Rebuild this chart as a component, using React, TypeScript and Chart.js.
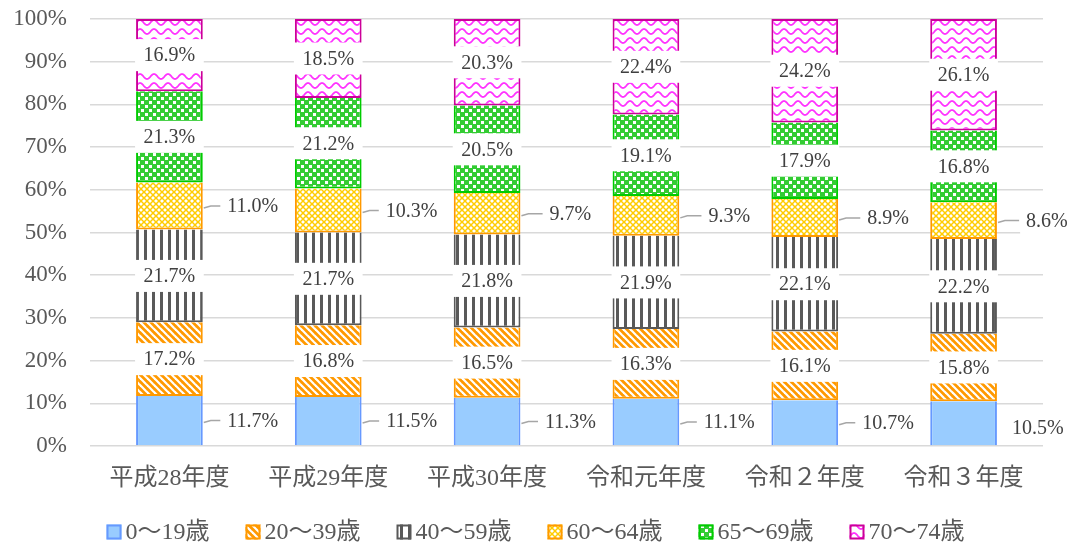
import { useEffect, useRef } from "react";
import { Chart, registerables } from "chart.js";

Chart.register(...registerables);

const categories = ["平成28年度", "平成29年度", "平成30年度", "令和元年度", "令和２年度", "令和３年度"];
const seriesNames = ["0～19歳", "20～39歳", "40～59歳", "60～64歳", "65～69歳", "70～74歳"];
const age0to19 = [11.7, 11.5, 11.3, 11.1, 10.7, 10.5];
const age20to39 = [17.2, 16.8, 16.5, 16.3, 16.1, 15.8];
const age40to59 = [21.7, 21.7, 21.8, 21.9, 22.1, 22.2];
const age60to64 = [11.0, 10.3, 9.7, 9.3, 8.9, 8.6];
const age65to69 = [21.3, 21.2, 20.5, 19.1, 17.9, 16.8];
const age70to74 = [16.9, 18.5, 20.3, 22.4, 24.2, 26.1];
const yMax = 100;
const yStep = 10;

const rawSeries = [age0to19, age20to39, age40to59, age60to64, age65to69, age70to74];
const outsideSeries = [0, 3];

const FONT = '"Liberation Serif", "Noto Sans CJK JP", serif';
const TEXT = "#595959";

function makePattern(kind: string): CanvasPattern {
  const c = document.createElement("canvas");
  let w = 8, h = 8;
  if (kind === "diag") { w = 7; h = 7; }
  if (kind === "cross") { w = 6; h = 6; }
  if (kind === "wave") { w = 14; h = 9; }
  c.width = w;
  c.height = h;
  const g = c.getContext("2d")!;
  if (kind === "diag") {
    g.fillStyle = "#ff9900";
    g.fillRect(0, 0, w, h);
    g.strokeStyle = "#ffffff";
    g.lineWidth = 2.2;
    for (const o of [-w, 0, w]) {
      g.beginPath();
      g.moveTo(o - 1, -1);
      g.lineTo(o + w + 1, h + 1);
      g.stroke();
    }
  } else if (kind === "vert") {
    g.fillStyle = "#ffffff";
    g.fillRect(0, 0, w, h);
    g.fillStyle = "#595959";
    g.fillRect(0, 0, 3, h);
  } else if (kind === "cross") {
    g.fillStyle = "#ffffff";
    g.fillRect(0, 0, w, h);
    g.strokeStyle = "#ffcc00";
    g.lineWidth = 1.5;
    for (const o of [-w, 0, w]) {
      g.beginPath();
      g.moveTo(o, 0);
      g.lineTo(o + w, h);
      g.stroke();
      g.beginPath();
      g.moveTo(o + w, 0);
      g.lineTo(o, h);
      g.stroke();
    }
  } else if (kind === "check") {
    g.fillStyle = "#33cc33";
    g.fillRect(0, 0, w, h);
    g.fillStyle = "#ffffff";
    g.fillRect(1, 1, 3, 3);
    g.fillRect(5, 5, 3, 3);
  } else if (kind === "wave") {
    g.fillStyle = "#ffffff";
    g.fillRect(0, 0, w, h);
    g.strokeStyle = "#ff33ff";
    g.lineWidth = 1.8;
    g.beginPath();
    for (let x = 0; x <= w; x += 0.5) {
      const y = 4.5 - 2.5 * Math.cos((2 * Math.PI * x) / w);
      if (x === 0) g.moveTo(x, y);
      else g.lineTo(x, y);
    }
    g.stroke();
  }
  return g.createPattern(c, "repeat")!;
}

export default function App() {
  const ref = useRef<HTMLCanvasElement | null>(null);

  useEffect(() => {
    if (!ref.current) return;
    const fills: (string | CanvasPattern)[] = [
      "#99ccff",
      makePattern("diag"),
      makePattern("vert"),
      makePattern("cross"),
      makePattern("check"),
      makePattern("wave"),
    ];
    const borders = ["#6699ff", "#ff9900", "#595959", "#ff9900", "#00cc00", "#cc0099"];
    const totals = categories.map((_, i) => rawSeries.reduce((s, arr) => s + arr[i], 0));

    const datasets = rawSeries.map((arr, di) => ({
      label: seriesNames[di],
      data: arr.map((v, i) => (v / totals[i]) * 100),
      backgroundColor: fills[di],
      borderColor: borders[di],
      borderWidth: {
        left: 2,
        right: 2,
        top: di === rawSeries.length - 1 ? 2 : 0,
        bottom: di === 0 ? 0 : 2,
      },
      borderSkipped: false,
      barPercentage: 0.42,
      categoryPercentage: 1,
    }));

    const labelPlugin = {
      id: "segLabels",
      afterDatasetsDraw(chart: any) {
        const ctx = chart.ctx as CanvasRenderingContext2D;
        ctx.save();
        ctx.font = `20px ${FONT}`;
        ctx.textAlign = "center";
        ctx.textBaseline = "middle";
        chart.data.datasets.forEach((_: any, di: number) => {
          const meta = chart.getDatasetMeta(di);
          meta.data.forEach((el: any, i: number) => {
            const text = rawSeries[di][i].toFixed(1) + "%";
            const { x, y, base, width } = el.getProps(["x", "y", "base", "width"], true);
            const cy = (y + base) / 2;
            const tw = ctx.measureText(text).width;
            if (outsideSeries.includes(di)) {
              const right = x + width / 2;
              let lx = right + 50;
              let ly = cy;
              let leader = true;
              if (di === 0 && i === categories.length - 1) {
                lx = right + 41;
                ly = cy + 5;
                leader = false;
              }
              ctx.fillStyle = "#ffffff";
              ctx.fillRect(lx - tw / 2 - 6, ly - 14, tw + 12, 28);
              if (leader) {
                ctx.strokeStyle = "#a6a6a6";
                ctx.lineWidth = 1.5;
                ctx.beginPath();
                ctx.moveTo(right + 1, cy + 2);
                ctx.lineTo(right + 8, cy);
                ctx.lineTo(lx - tw / 2 - 7, ly);
                ctx.stroke();
              }
              ctx.fillStyle = "#404040";
              ctx.fillText(text, lx, ly + 1);
            } else {
              const bw = Math.max(width + 2, tw + 12);
              ctx.fillStyle = "#ffffff";
              ctx.fillRect(x - bw / 2, cy - 16, bw, 32);
              ctx.fillStyle = "#404040";
              ctx.fillText(text, x, cy + 1);
            }
          });
        });
        ctx.restore();
      },
    };

    const legendPlugin = {
      id: "customLegend",
      afterDraw(chart: any) {
        const ctx = chart.ctx as CanvasRenderingContext2D;
        ctx.save();
        ctx.font = `24px ${FONT}`;
        ctx.textBaseline = "middle";
        ctx.textAlign = "left";
        const box = 15, gap = 4, spacing = 36;
        const widths = seriesNames.map((n) => box + gap + ctx.measureText(n).width);
        const total = widths.reduce((a, b) => a + b, 0) + spacing * (widths.length - 1);
        let x = (chart.width - total) / 2;
        const y = 532;
        seriesNames.forEach((n, di) => {
          ctx.fillStyle = fills[di] as any;
          ctx.fillRect(x, y - box / 2, box, box);
          ctx.strokeStyle = borders[di];
          ctx.lineWidth = 2;
          ctx.strokeRect(x + 1, y - box / 2 + 1, box - 2, box - 2);
          ctx.fillStyle = TEXT;
          ctx.fillText(n, x + box + gap, y + 1);
          x += widths[di] + spacing;
        });
        ctx.restore();
      },
    };

    const chart = new Chart(ref.current, {
      type: "bar",
      data: { labels: categories, datasets: datasets as any },
      options: {
        animation: false,
        responsive: false,
        layout: { padding: { top: 19, right: 28, bottom: 41, left: 0 } },
        plugins: {
          legend: { display: false },
          tooltip: { enabled: false },
        },
        scales: {
          x: {
            stacked: true,
            grid: { display: false },
            border: { display: false },
            ticks: { color: TEXT, font: { family: FONT, size: 24 }, padding: 10 },
            afterFit: (s: any) => { s.height = 60; s.paddingTop = 0; s.paddingBottom = 0; },
          },
          y: {
            stacked: true,
            min: 0,
            max: yMax,
            border: { display: false },
            grid: { color: "#d9d9d9", lineWidth: 1.5, drawTicks: false },
            ticks: {
              stepSize: yStep,
              color: TEXT,
              font: { family: FONT, size: 23 },
              padding: 23,
              callback: (v: any) => v + "%",
            },
            afterFit: (s: any) => { s.width = 90; s.paddingTop = 0; s.paddingBottom = 0; },
          },
        },
      },
      plugins: [labelPlugin, legendPlugin],
    });
    return () => chart.destroy();
  }, []);

  return (
    <div style={{ position: "absolute", left: 0, top: 0, width: 1071, height: 547, background: "#fff" }}>
      <canvas ref={ref} width={1071} height={547} />
    </div>
  );
}
